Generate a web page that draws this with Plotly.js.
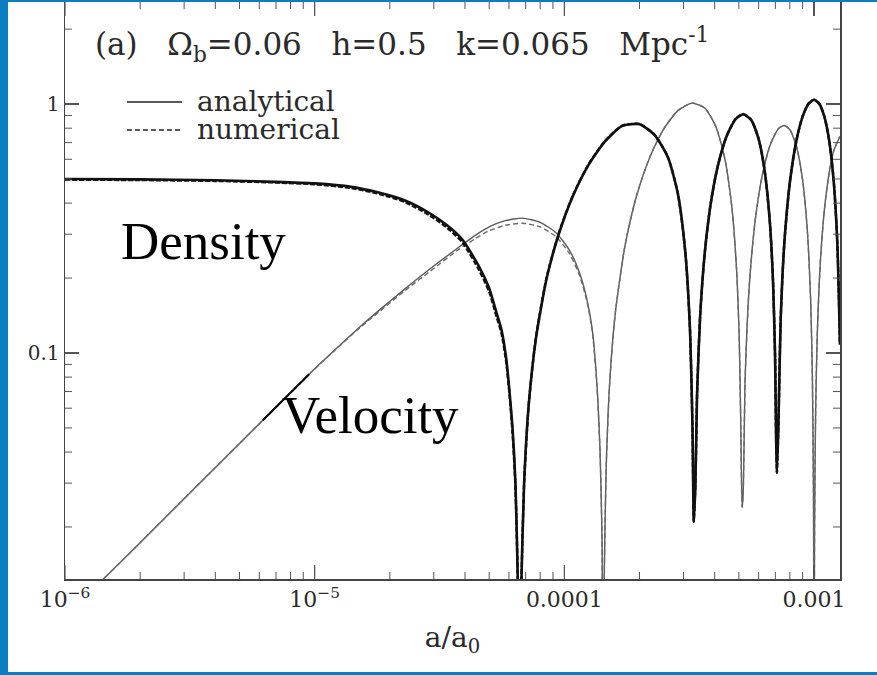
<!DOCTYPE html>
<html>
<head>
<meta charset="utf-8">
<script src="https://cdn.plot.ly/plotly-3.0.1.min.js"></script>
<style>
  html, body { margin: 0; padding: 0; background: #ffffff; }
  #frame { position: relative; width: 877px; height: 675px; overflow: hidden; background: #ffffff; }
  #chart { position: absolute; left: 0; top: 0; width: 877px; height: 675px; }
  .edge { position: absolute; background: #0b7ec3; }
</style>
</head>
<body>
<div id="frame">
  <div id="chart"></div>
  <div class="edge" style="left:0;top:0;width:8px;height:675px"></div>
  <div class="edge" style="left:0;top:0;width:877px;height:2px"></div>
  <div class="edge" style="left:0;top:672px;width:877px;height:3px"></div>
</div>
<script>
// Scale factor a/a0 sampled along the density curve
const aDens = [
  1.0e-6, 2.0e-6, 4.0e-6, 7.0e-6, 1.0e-5, 1.4e-5, 1.82e-5, 2.3e-5, 2.88e-5, 3.4e-5,
  3.91e-5, 4.57e-5, 5.0e-5, 5.35e-5, 5.6e-5, 5.85e-5, 6.03e-5, 6.2e-5, 6.37e-5, 6.5e-5,
  6.6e-5, 6.7e-5, 6.9e-5, 7.2e-5, 7.7e-5, 8.5e-5, 9.5e-5, 1.08e-4, 1.25e-4, 1.45e-4,
  1.7e-4, 2.0e-4, 2.3e-4, 2.6e-4, 2.85e-4, 3.05e-4, 3.18e-4, 3.26e-4, 3.30e-4, 3.35e-4,
  3.4e-4, 3.5e-4, 3.65e-4, 3.85e-4, 4.1e-4, 4.45e-4, 4.85e-4, 5.2e-4, 5.6e-4, 6.0e-4,
  6.35e-4, 6.65e-4, 6.85e-4, 6.98e-4, 7.05e-4, 7.10e-4, 7.2e-4, 7.35e-4, 7.6e-4, 8.0e-4,
  8.5e-4, 9.0e-4, 9.5e-4, 1.0e-3, 1.05e-3, 1.1e-3, 1.15e-3, 1.2e-3, 1.24e-3, 1.27e-3
];
// Density contrast, analytical solution
const densAnalytical = [
  0.500, 0.498, 0.494, 0.487, 0.480, 0.465, 0.440, 0.410, 0.365, 0.325,
  0.285, 0.221, 0.182, 0.145, 0.124, 0.095, 0.070, 0.050, 0.030, 0.013,
  0.004, 0.010, 0.030, 0.062, 0.115, 0.200, 0.300, 0.425, 0.570, 0.705,
  0.815, 0.830, 0.750, 0.610, 0.435, 0.255, 0.129, 0.050, 0.021, 0.030,
  0.068, 0.142, 0.252, 0.393, 0.553, 0.736, 0.870, 0.910, 0.863, 0.723,
  0.535, 0.338, 0.194, 0.098, 0.045, 0.033, 0.051, 0.135, 0.274, 0.484,
  0.713, 0.890, 1.002, 1.040, 1.002, 0.890, 0.713, 0.484, 0.274, 0.108
];
// Density contrast, numerical integration
const densNumerical = [
  0.497, 0.495, 0.491, 0.484, 0.476, 0.460, 0.435, 0.404, 0.358, 0.318,
  0.278, 0.214, 0.176, 0.140, 0.120, 0.092, 0.068, 0.048, 0.029, 0.013,
  0.004, 0.010, 0.030, 0.062, 0.116, 0.202, 0.303, 0.428, 0.573, 0.708,
  0.818, 0.832, 0.752, 0.612, 0.436, 0.256, 0.130, 0.050, 0.021, 0.030,
  0.068, 0.143, 0.253, 0.395, 0.555, 0.738, 0.872, 0.912, 0.865, 0.725,
  0.536, 0.339, 0.195, 0.098, 0.045, 0.033, 0.051, 0.136, 0.276, 0.486,
  0.715, 0.892, 1.004, 1.042, 1.004, 0.892, 0.715, 0.486, 0.276, 0.109
];

// Scale factor a/a0 sampled along the velocity curve
const aVel = [
  1.0e-6, 2.0e-6, 3.5e-6, 5.0e-6, 6.2e-6, 8.0e-6, 9.5e-6, 1.2e-5, 1.5e-5, 1.82e-5,
  2.3e-5, 2.9e-5, 3.8e-5, 4.4e-5, 5.0e-5, 5.8e-5, 6.8e-5, 8.0e-5, 9.3e-5, 1.05e-4,
  1.15e-4, 1.23e-4, 1.294e-4, 1.35e-4, 1.39e-4, 1.415e-4, 1.43e-4, 1.445e-4, 1.47e-4, 1.52e-4,
  1.6e-4, 1.75e-4, 1.95e-4, 2.2e-4, 2.5e-4, 2.85e-4, 3.25e-4, 3.65e-4, 4.05e-4, 4.4e-4,
  4.7e-4, 4.9e-4, 5.02e-4, 5.09e-4, 5.15e-4, 5.2e-4, 5.3e-4, 5.5e-4, 5.8e-4, 6.2e-4,
  6.7e-4, 7.2e-4, 7.6e-4, 8.0e-4, 8.5e-4, 9.0e-4, 9.4e-4, 9.7e-4, 9.85e-4, 9.95e-4,
  1.0e-3, 1.005e-3, 1.015e-3, 1.03e-3, 1.06e-3, 1.1e-3, 1.15e-3, 1.2e-3, 1.27e-3
];
// Peculiar velocity, analytical solution
const velAnalytical = [
  0.0087, 0.0173, 0.0303, 0.0433, 0.0537, 0.0692, 0.0822, 0.1025, 0.126, 0.149,
  0.181, 0.218, 0.267, 0.297, 0.321, 0.340, 0.348, 0.335, 0.303, 0.258,
  0.210, 0.165, 0.124, 0.075, 0.040, 0.018, 0.003, 0.0128, 0.034, 0.077,
  0.145, 0.270, 0.430, 0.611, 0.793, 0.941, 1.009, 0.964, 0.809, 0.598,
  0.375, 0.212, 0.111, 0.051, 0.024, 0.027, 0.080, 0.184, 0.335, 0.516,
  0.692, 0.796, 0.820, 0.789, 0.677, 0.495, 0.311, 0.159, 0.080, 0.027,
  0.003, 0.020, 0.059, 0.117, 0.232, 0.375, 0.530, 0.650, 0.741
];
// Peculiar velocity, numerical integration
const velNumerical = [
  0.0087, 0.0173, 0.0303, 0.0433, 0.0537, 0.0692, 0.0821, 0.1022, 0.125, 0.147,
  0.178, 0.213, 0.262, 0.288, 0.310, 0.326, 0.332, 0.321, 0.292, 0.250,
  0.205, 0.162, 0.122, 0.074, 0.040, 0.018, 0.003, 0.0128, 0.034, 0.077,
  0.145, 0.271, 0.432, 0.613, 0.795, 0.943, 1.010, 0.965, 0.810, 0.599,
  0.376, 0.213, 0.111, 0.051, 0.024, 0.027, 0.080, 0.185, 0.336, 0.517,
  0.693, 0.797, 0.821, 0.790, 0.678, 0.496, 0.312, 0.159, 0.080, 0.027,
  0.003, 0.020, 0.059, 0.118, 0.233, 0.376, 0.531, 0.651, 0.742
];

// Axis tick labels
const xTickVals = [1e-6, 1e-5, 1e-4, 1e-3];
const xTickText = ['10<sup>\u22126</sup>', '10<sup>\u22125</sup>', '0.0001', '0.001'];
const yTickVals = [0.1, 1];
const yTickText = ['0.1', '1'];

const xRange = [-6, -2.896];   // log10 of a/a0
const yRange = [-1.908, 0.41]; // log10 of amplitude
const margin = { l: 65, r: 37, t: 2, b: 96 };
const plotW = 877 - margin.l - margin.r;
const plotH = 675 - margin.t - margin.b;

// Minor tick positions (2..9 within each decade), kept inside the axis range
function minorTicks(e0, e1, range) {
  const out = [];
  for (let e = e0; e <= e1; e++) {
    for (let d = 2; d <= 9; d++) {
      const v = d * Math.pow(10, e);
      const lv = Math.log10(v);
      if (lv > range[0] && lv < range[1]) out.push(v);
    }
  }
  return out;
}
const xMinor = minorTicks(-6, -3, xRange);
const yMinor = minorTicks(-2, 0, yRange);

// Fraction of the plotting area at which a value sits on a log axis
function logFrac(v, range) {
  return (Math.log10(v) - range[0]) / (range[1] - range[0]);
}

// Inward tick marks on all four sides of the frame
function frameTicks() {
  const s = [];
  const col = '#555';
  const addX = function (v, len, w) {
    const f = logFrac(v, xRange);
    s.push({ type: 'line', xref: 'paper', yref: 'paper', x0: f, x1: f, y0: 0, y1: len / plotH, line: { color: col, width: w } });
    s.push({ type: 'line', xref: 'paper', yref: 'paper', x0: f, x1: f, y0: 1, y1: 1 - len / plotH, line: { color: col, width: w } });
  };
  const addY = function (v, len, w) {
    const f = logFrac(v, yRange);
    s.push({ type: 'line', xref: 'paper', yref: 'paper', y0: f, y1: f, x0: 0, x1: len / plotW, line: { color: col, width: w } });
    s.push({ type: 'line', xref: 'paper', yref: 'paper', y0: f, y1: f, x0: 1, x1: 1 - len / plotW, line: { color: col, width: w } });
  };
  xTickVals.forEach(function (v) { addX(v, 14, 1.2); });
  xMinor.forEach(function (v) { addX(v, 7, 1); });
  yTickVals.forEach(function (v) { addY(v, 14, 1.2); });
  yMinor.forEach(function (v) { addY(v, 7, 1); });
  return s;
}

const serif = 'DejaVu Serif, serif';
const ink = '#2a2a2a';

const traces = [
  {
    x: aVel, y: velAnalytical, type: 'scatter', mode: 'lines',
    line: { color: '#5a5a5a', width: 1.4, shape: 'spline', smoothing: 0.6 },
    hoverinfo: 'skip', showlegend: false
  },
  {
    x: aVel, y: velNumerical, type: 'scatter', mode: 'lines',
    line: { color: '#6a6a6a', width: 1.4, dash: '5px,3px', shape: 'spline', smoothing: 0.6 },
    hoverinfo: 'skip', showlegend: false
  },
  {
    // redrawn stretch of the velocity curve beside its label
    x: aVel.slice(4, 7), y: velAnalytical.slice(4, 7), type: 'scatter', mode: 'lines',
    line: { color: '#000000', width: 2 },
    hoverinfo: 'skip', showlegend: false
  },
  {
    x: aDens, y: densAnalytical, type: 'scatter', mode: 'lines',
    line: { color: '#111111', width: 2.6, shape: 'spline', smoothing: 0.6 },
    hoverinfo: 'skip', showlegend: false
  },
  {
    x: aDens, y: densNumerical, type: 'scatter', mode: 'lines',
    line: { color: '#111111', width: 2.4, dash: '5px,2px', shape: 'spline', smoothing: 0.6 },
    hoverinfo: 'skip', showlegend: false
  }
];

const legendShapes = [
  { type: 'line', xref: 'paper', yref: 'paper', x0: 0.080, x1: 0.151, y0: 0.8267, y1: 0.8267,
    line: { color: '#222', width: 1.5 } },
  { type: 'line', xref: 'paper', yref: 'paper', x0: 0.080, x1: 0.151, y0: 0.778, y1: 0.778,
    line: { color: '#222', width: 1.5, dash: '5px,3px' } }
];

const layout = {
  width: 877,
  height: 675,
  margin: margin,
  paper_bgcolor: '#ffffff',
  plot_bgcolor: '#ffffff',
  showlegend: false,
  xaxis: {
    type: 'log', range: xRange, automargin: false,
    showgrid: false, zeroline: false,
    showline: true, linecolor: '#444', linewidth: 1.5, mirror: 'ticks',
    ticks: 'inside', ticklen: 14, tickwidth: 1.2, tickcolor: '#555',
    tickmode: 'array', tickvals: xTickVals, ticktext: xTickText,
    tickfont: { family: serif, size: 22, color: ink },
    title: { text: 'a/a<sub>0</sub>', font: { family: serif, size: 28, color: ink }, standoff: 16 }
  },
  yaxis: {
    type: 'log', range: yRange, automargin: false,
    showgrid: false, zeroline: false,
    showline: true, linecolor: '#444', linewidth: 1.5, mirror: 'ticks',
    ticks: 'inside', ticklen: 14, tickwidth: 1.2, tickcolor: '#555',
    tickmode: 'array', tickvals: yTickVals, ticktext: yTickText,
    tickfont: { family: serif, size: 20, color: ink }
  },
  shapes: legendShapes.concat(frameTicks()),
  annotations: [
    { xref: 'paper', yref: 'paper', x: 0.036, y: 0.927, xanchor: 'left', yanchor: 'middle', showarrow: false,
      text: '(a)\u00a0\u00a0\u00a0\u03a9<sub>b</sub>=0.06\u00a0\u00a0\u00a0h=0.5\u00a0\u00a0\u00a0k=0.065\u00a0\u00a0\u00a0Mpc<sup>-1</sup>',
      font: { family: serif, size: 31, color: ink } },
    { xref: 'paper', yref: 'paper', x: 0.168, y: 0.8284, xanchor: 'left', yanchor: 'middle', showarrow: false,
      text: 'analytical', font: { family: serif, size: 28, color: ink } },
    { xref: 'paper', yref: 'paper', x: 0.168, y: 0.779, xanchor: 'left', yanchor: 'middle', showarrow: false,
      text: 'numerical', font: { family: serif, size: 28, color: ink } },
    { xref: 'paper', yref: 'paper', x: 0.070, y: 0.5858, xanchor: 'left', yanchor: 'middle', showarrow: false,
      text: 'Density', font: { family: 'Liberation Serif, serif', size: 53, color: '#000' } },
    { xref: 'paper', yref: 'paper', x: 0.278, y: 0.284, xanchor: 'left', yanchor: 'middle', showarrow: false,
      text: 'Velocity', font: { family: 'Liberation Serif, serif', size: 53, color: '#000' } }
  ]
};

Plotly.newPlot('chart', traces, layout, { staticPlot: true, displayModeBar: false });
</script>
</body>
</html>
